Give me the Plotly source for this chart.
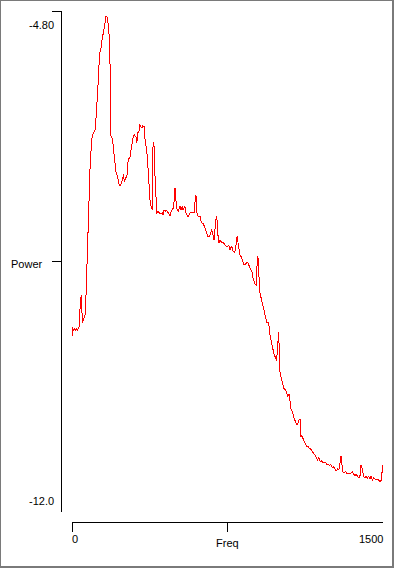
import plotly.graph_objects as go

# ---- data ----
freq = [0, 1, 2, 6, 11, 16, 21, 26, 30, 35, 40, 45, 50, 54, 64, 67, 72, 77, 82, 88,
        93, 98, 104, 111, 116, 120, 125, 131, 136, 141, 146, 152, 157, 164, 168, 173, 180, 184, 186, 193,
        197, 202, 207, 212, 217, 223, 228, 233, 239, 244, 248, 252, 257, 262, 266, 271, 276, 281, 285, 290,
        295, 300, 305, 310, 313, 318, 323, 327, 332, 337, 342, 348, 353, 358, 363, 367, 372, 377, 382, 387,
        391, 396, 401, 406, 409, 414, 419, 425, 430, 435, 440, 444, 449, 454, 459, 464, 469, 473, 478, 483,
        489, 492, 497, 502, 507, 512, 517, 521, 526, 531, 536, 541, 545, 550, 555, 560, 565, 570, 582, 589,
        595, 598, 602, 609, 618, 624, 634, 642, 650, 656, 662, 669, 674, 679, 685, 691, 696, 701, 706, 711,
        715, 722, 730, 737, 743, 749, 756, 762, 768, 773, 778, 783, 788, 792, 797, 802, 807, 812, 816, 821,
        826, 831, 838, 842, 849, 854, 858, 865, 869, 874, 879, 884, 891, 893, 898, 902, 905, 911, 916, 921,
        926, 931, 935, 940, 946, 951, 956, 961, 966, 971, 975, 982, 987, 992, 997, 1001, 1004, 1009, 1014, 1019,
        1023, 1028, 1035, 1040, 1045, 1049, 1054, 1059, 1064, 1069, 1075, 1080, 1085, 1091, 1096, 1100, 1102, 1107, 1112, 1118,
        1123, 1128, 1133, 1138, 1144, 1149, 1152, 1158, 1165, 1171, 1178, 1184, 1190, 1197, 1203, 1210, 1216, 1223, 1229, 1235,
        1242, 1248, 1255, 1261, 1268, 1274, 1281, 1287, 1293, 1298, 1301, 1306, 1312, 1319, 1325, 1332, 1338, 1345, 1351, 1358,
        1364, 1370, 1377, 1383, 1389, 1394, 1401, 1406, 1412, 1418, 1425, 1431, 1437, 1444, 1449, 1454, 1460, 1466, 1473, 1479,
        1486, 1492, 1495, 1499]

power = [-9.48, -9.34, -9.38, -9.39, -9.37, -9.39, -9.37, -9.39, -9.35, -9.33, -8.99, -8.88, -9.28, -9.25, -9.16, -8.95, -8.47, -7.90, -7.22, -6.97,
         -6.75, -6.58, -6.55, -6.51, -6.33, -6.03, -5.90, -5.53, -5.36, -5.33, -5.18, -5.11, -5.00, -4.88, -4.88, -4.95, -5.17, -5.64, -6.58, -6.62,
         -6.69, -6.87, -7.05, -7.11, -7.15, -7.27, -7.30, -7.31, -7.27, -7.22, -7.15, -7.25, -7.22, -7.18, -7.15, -6.94, -6.91, -6.89, -6.79, -6.65,
         -6.61, -6.58, -6.61, -6.62, -6.69, -6.55, -6.53, -6.43, -6.46, -6.48, -6.45, -6.46, -6.68, -6.75, -6.89, -7.12, -7.37, -7.55, -7.61, -7.66,
         -6.69, -6.75, -7.22, -7.66, -7.71, -7.68, -7.70, -7.71, -7.71, -7.70, -7.73, -7.66, -7.68, -7.66, -7.68, -7.70, -7.71, -7.74, -7.68, -7.66,
         -7.63, -7.55, -7.34, -7.54, -7.66, -7.68, -7.63, -7.61, -7.66, -7.61, -7.66, -7.63, -7.61, -7.70, -7.73, -7.76, -7.73, -7.70, -7.70, -7.70,
         -7.48, -7.45, -7.70, -7.76, -7.76, -7.84, -7.86, -7.94, -7.99, -8.04, -8.04, -7.99, -7.94, -8.01, -8.09, -7.90, -7.74, -7.84, -8.13, -8.12,
         -8.09, -8.13, -8.13, -8.16, -8.17, -8.19, -8.17, -8.23, -8.19, -8.20, -8.26, -8.27, -8.23, -8.13, -8.03, -8.16, -8.27, -8.33, -8.33, -8.40,
         -8.42, -8.45, -8.42, -8.42, -8.42, -8.47, -8.49, -8.53, -8.56, -8.65, -8.69, -8.73, -8.75, -8.33, -8.35, -8.59, -8.83, -8.91, -8.98, -9.02,
         -9.09, -9.16, -9.24, -9.28, -9.28, -9.34, -9.48, -9.55, -9.62, -9.70, -9.74, -9.78, -9.83, -9.60, -9.41, -9.85, -10.03, -10.07, -10.14, -10.17,
         -10.23, -10.24, -10.27, -10.34, -10.31, -10.30, -10.50, -10.53, -10.57, -10.63, -10.70, -10.72, -10.75, -10.72, -10.67, -10.66, -10.92, -10.90, -10.93, -10.96,
         -11.00, -11.03, -11.06, -11.05, -11.08, -11.09, -11.10, -11.13, -11.15, -11.18, -11.22, -11.25, -11.22, -11.28, -11.26, -11.29, -11.29, -11.29, -11.32, -11.31,
         -11.33, -11.32, -11.36, -11.35, -11.38, -11.41, -11.38, -11.39, -11.29, -11.19, -11.29, -11.42, -11.44, -11.42, -11.44, -11.44, -11.45, -11.44, -11.42, -11.46,
         -11.48, -11.46, -11.49, -11.51, -11.48, -11.32, -11.39, -11.49, -11.51, -11.49, -11.51, -11.49, -11.52, -11.48, -11.55, -11.51, -11.52, -11.54, -11.54, -11.54,
         -11.56, -11.54, -11.44, -11.33]

x_range = [0, 1500]
y_range = [-12.0, -4.8]
x_ticks = [0, 750, 1500]
x_tick_labels = ["0", "Freq", "1500"]
y_ticks = [-4.8, -8.4, -12.0]
y_tick_labels = ["-4.80", "Power", "-12.0"]

# ---- geometry (pixels) ----
W, H = 394, 568
L, R, T, B = 72, 11, 11, 56
PW, PH = W - L - R, H - T - B


def px(X):
    return (X - L) / PW


def py(Y):
    return (H - B - Y) / PH


FONT = dict(family="Liberation Sans, Arial, sans-serif", size=11, color="black")

fig = go.Figure()
fig.add_trace(go.Scatter(x=freq, y=power, mode="lines",
                         line=dict(color="#ff0000", width=1), hoverinfo="skip",
                         showlegend=False))

shapes = []
# border of the window
bc = "#7a7a7a"
shapes.append(dict(type="line", xref="paper", yref="paper", x0=px(0.5), x1=px(0.5), y0=py(0), y1=py(568), line=dict(color=bc, width=1)))
shapes.append(dict(type="line", xref="paper", yref="paper", x0=px(0), x1=px(394), y0=py(0.5), y1=py(0.5), line=dict(color=bc, width=1)))
shapes.append(dict(type="line", xref="paper", yref="paper", x0=px(392.5), x1=px(392.5), y0=py(0), y1=py(568), line=dict(color=bc, width=2)))
shapes.append(dict(type="line", xref="paper", yref="paper", x0=px(0), x1=px(394), y0=py(566.5), y1=py(566.5), line=dict(color=bc, width=2)))

# y axis line + ticks
shapes.append(dict(type="line", xref="paper", yref="y", x0=px(61.5), x1=px(61.5), y0=y_range[0], y1=y_range[1], line=dict(color="black", width=1)))
for v in y_ticks:
    shapes.append(dict(type="line", xref="paper", yref="y", x0=px(51.5), x1=px(61.5), y0=v, y1=v, line=dict(color="black", width=1)))
# x axis line + ticks
shapes.append(dict(type="line", xref="x", yref="paper", x0=x_range[0], x1=x_range[1], y0=py(522.5), y1=py(522.5), line=dict(color="black", width=1)))
for v in x_ticks:
    shapes.append(dict(type="line", xref="x", yref="paper", x0=v, x1=v, y0=py(522.5), y1=py(531.5), line=dict(color="black", width=1)))

annotations = []
# y labels
annotations.append(dict(text=y_tick_labels[0], xref="paper", yref="paper", x=px(53.5), y=py(24.5), xanchor="right", yanchor="middle"))
annotations.append(dict(text=y_tick_labels[1], xref="paper", yref="paper", x=px(11), y=py(264), xanchor="left", yanchor="middle"))
annotations.append(dict(text=y_tick_labels[2], xref="paper", yref="paper", x=px(53.5), y=py(500.5), xanchor="right", yanchor="middle"))
# x labels
annotations.append(dict(text=x_tick_labels[0], xref="x", yref="paper", x=x_ticks[0], y=py(538.5), xanchor="left", yanchor="middle"))
annotations.append(dict(text=x_tick_labels[1], xref="x", yref="paper", x=x_ticks[1], y=py(543), xanchor="center", yanchor="middle"))
annotations.append(dict(text=x_tick_labels[2], xref="x", yref="paper", x=x_ticks[2], y=py(538.5), xanchor="right", yanchor="middle"))
for a in annotations:
    a.update(showarrow=False, font=FONT, borderpad=0, borderwidth=0)

fig.update_layout(
    width=W, height=H,
    margin=dict(l=L, r=R, t=T, b=B, pad=0),
    paper_bgcolor="white", plot_bgcolor="white",
    xaxis=dict(range=x_range, visible=False, fixedrange=True),
    yaxis=dict(range=y_range, visible=False, fixedrange=True),
    shapes=shapes, annotations=annotations,
    showlegend=False,
)

# crisp (non-antialiased) strokes like the original pixel drawing
crisp_css = (
    "var s=document.createElement('style');"
    "s.textContent='.scatterlayer path.js-line, .layer-above path, .layer-below path, .shapelayer path{shape-rendering:crispEdges;}';"
    "document.head.appendChild(s);"
)

fig.write_html("out.html", config=dict(displayModeBar=False), post_script=crisp_css)
